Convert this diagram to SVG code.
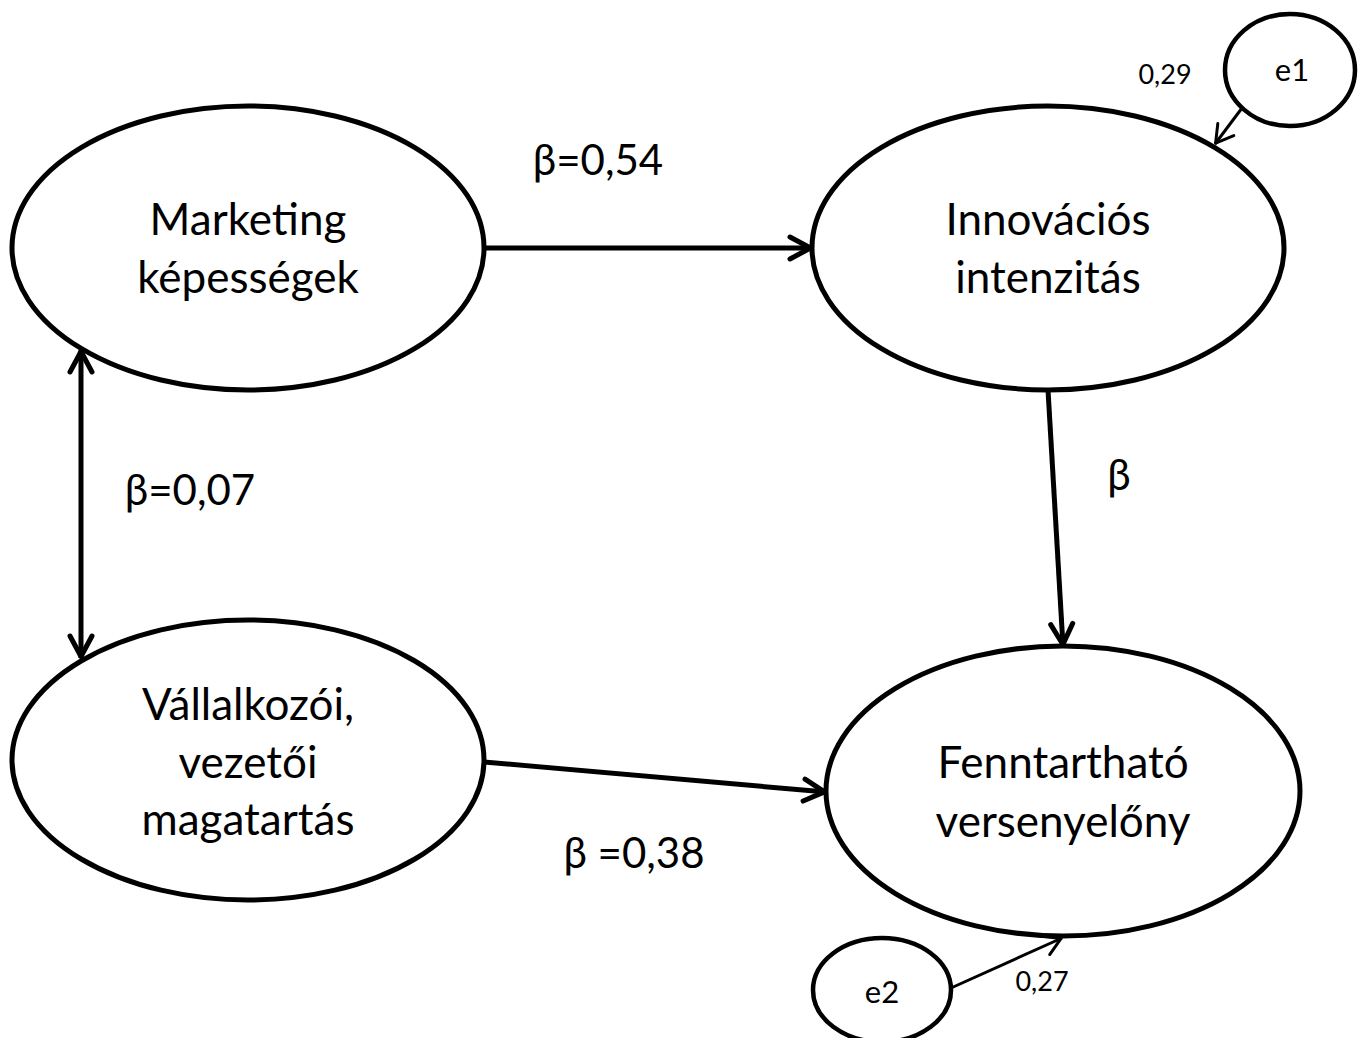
<svg xmlns="http://www.w3.org/2000/svg" width="1366" height="1038" viewBox="0 0 1366 1038">
  <style>
    .node { fill: #ffffff; stroke: #000000; stroke-width: 5; }
    .err { fill: #ffffff; stroke: #000000; stroke-width: 4.5; }
    .big { font-family: Lato, "Open Sans", "DejaVu Sans", sans-serif; font-size: 42px; fill: #000000; text-anchor: middle; }
    .name { font-family: Lato, "Open Sans", "DejaVu Sans", sans-serif; font-size: 44px; fill: #000000; text-anchor: middle; }
    .small { font-family: Lato, "Open Sans", "DejaVu Sans", sans-serif; font-size: 27px; fill: #000000; text-anchor: middle; }
    .errt { font-family: Lato, "Open Sans", "DejaVu Sans", sans-serif; font-size: 31px; fill: #000000; text-anchor: middle; }
    .thick { fill: none; stroke: #000000; stroke-width: 5; }
    .thin { fill: none; stroke: #000000; stroke-width: 3; }
  </style>
  <defs>
    <marker id="headThick" markerUnits="userSpaceOnUse" markerWidth="40" markerHeight="40" refX="0" refY="0" viewBox="-30 -20 40 40" orient="auto-start-reverse" overflow="visible">
      <path d="M-22,-11 L-1.5,0 L-22,11" fill="none" stroke="#000000" stroke-width="5" stroke-linecap="round" stroke-linejoin="round"/>
    </marker>
    <marker id="headThin" markerUnits="userSpaceOnUse" markerWidth="30" markerHeight="30" refX="0" refY="0" viewBox="-25 -15 30 30" orient="auto" overflow="visible">
      <path d="M-18,-10 L-1,0 L-18,10" fill="none" stroke="#000000" stroke-width="3" stroke-linecap="round" stroke-linejoin="round"/>
    </marker>
  </defs>

  <g id="connectors">
    <line class="thick" x1="485" y1="248" x2="812" y2="248" marker-end="url(#headThick)"/>
    <line class="thick" x1="81" y1="350" x2="81" y2="658" marker-start="url(#headThick)" marker-end="url(#headThick)"/>
    <line class="thick" x1="1048" y1="390" x2="1063" y2="646" marker-end="url(#headThick)"/>
    <line class="thick" x1="484" y1="762" x2="826" y2="792" marker-end="url(#headThick)"/>
    <line class="thin" x1="1242" y1="108" x2="1215" y2="144" marker-end="url(#headThin)"/>
    <line class="thin" x1="951" y1="988" x2="1062" y2="938" marker-end="url(#headThin)"/>
  </g>

  <g id="labels">
    <text class="big" x="598" y="175">β=0,54</text>
    <text class="big" x="190" y="505">β=0,07</text>
    <text class="big" x="1119" y="490">β</text>
    <text class="big" x="634" y="868">β =0,38</text>
    <text class="small" x="1165" y="84">0,29</text>
    <text class="small" x="1042" y="991">0,27</text>
  </g>

  <g id="node-marketing">
    <ellipse class="node" cx="248" cy="248" rx="236" ry="142"/>
    <text class="name" x="248" y="235">Marketing</text>
    <text class="name" x="248" y="293">képességek</text>
  </g>

  <g id="node-innovacios">
    <ellipse class="node" cx="1048" cy="248" rx="236" ry="142"/>
    <text class="name" x="1048" y="235">Innovációs</text>
    <text class="name" x="1048" y="293">intenzitás</text>
  </g>

  <g id="node-vallalkozoi">
    <ellipse class="node" cx="248" cy="760" rx="236" ry="140"/>
    <text class="name" x="248" y="720">Vállalkozói,</text>
    <text class="name" x="248" y="778">vezetői</text>
    <text class="name" x="248" y="835">magatartás</text>
  </g>

  <g id="node-fenntarthato">
    <ellipse class="node" cx="1063" cy="791" rx="237" ry="145"/>
    <text class="name" x="1063" y="778">Fenntartható</text>
    <text class="name" x="1063" y="837">versenyelőny</text>
  </g>

  <g id="node-e1">
    <ellipse class="err" cx="1290" cy="70" rx="65" ry="56"/>
    <text class="errt" x="1292" y="81">e1</text>
  </g>

  <g id="node-e2">
    <ellipse class="err" cx="882" cy="990" rx="69" ry="52"/>
    <text class="errt" x="882" y="1003">e2</text>
  </g>
</svg>
